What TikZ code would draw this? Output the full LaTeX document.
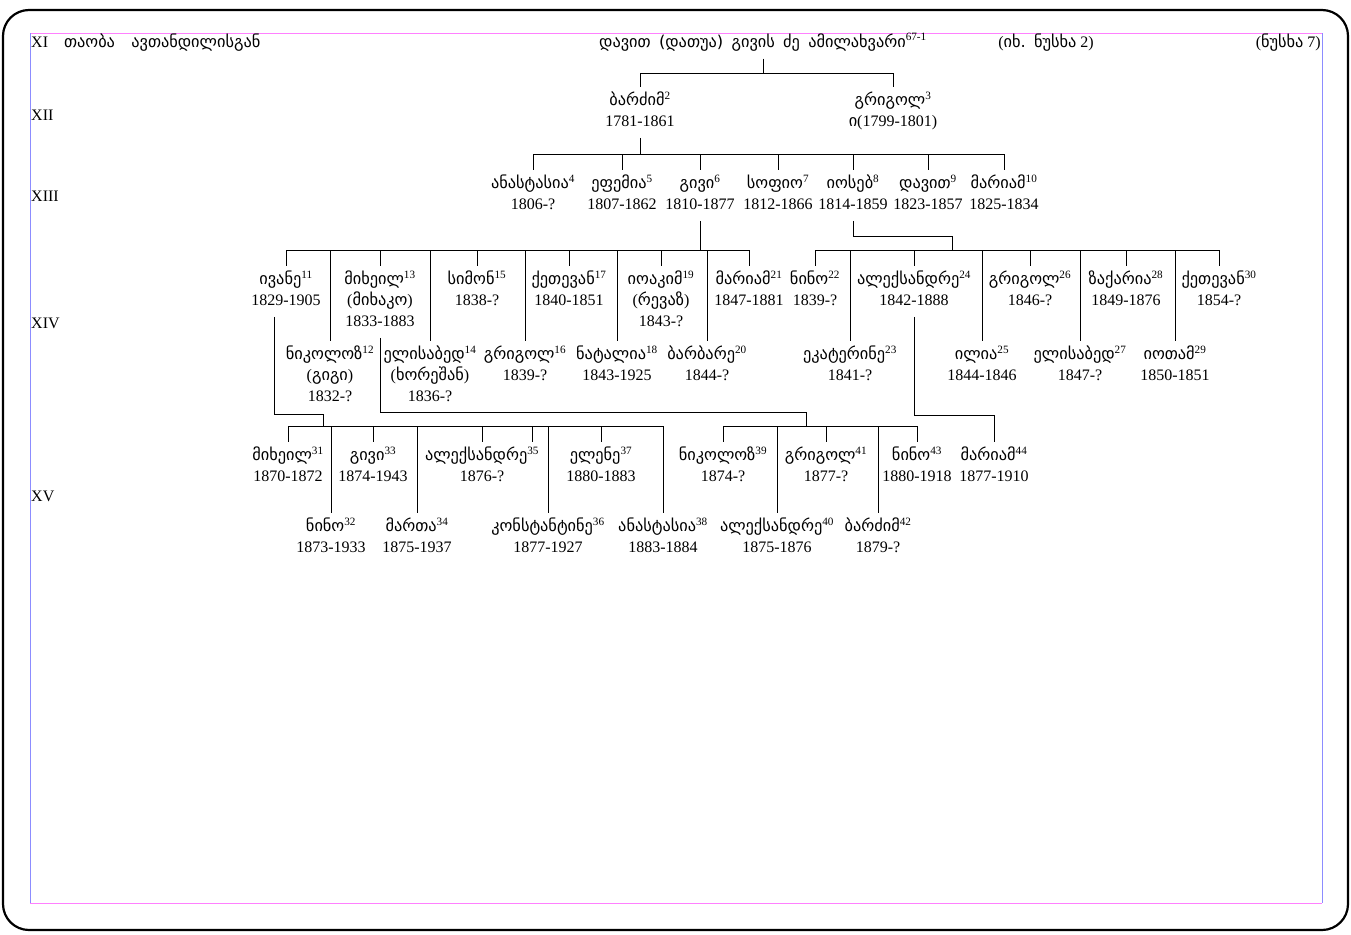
\documentclass[tikz,border=0pt]{standalone}
\usepackage{fontspec}
\setmainfont{Liberation Serif}
\newfontfamily\geo{DejaVu Sans}[Scale=1.02, WordSpace=1.6]
\newcommand{\nm}[2]{{\geo #1}\textsuperscript{#2}}
\definecolor{pagetop}{RGB}{255,128,255}
\definecolor{pageside}{RGB}{140,140,255}

\begin{document}
\begin{tikzpicture}[x=1pt, y=-1pt,
    person/.style={anchor=north, align=center, inner xsep=1pt, inner ysep=5pt,
      font=\fontsize{16}{21}\selectfont,
      execute at begin node=\strut, execute at end node=\strut},
    rowtag/.style={anchor=west, inner sep=0pt, font=\fontsize{16}{21}\selectfont},
    tie/.style={line width=1pt}
  ]
    \useasboundingbox (0,0) rectangle (1351,934);

    % Frame
    \draw[line width=2.2pt, rounded corners=26pt] (3,10) rectangle (1348,930);
    \draw[pagetop, line width=0.8pt] (30,33) -- (1322,33) (30,903) -- (1322,903);
    \draw[pageside, line width=0.8pt] (30,33) -- (30,903) (1322,33) -- (1322,903);

    % Generation tags
    \node[rowtag] (gen11) at (31,43)  {XI\quad{\geo თაობა\quad ავთანდილისგან}};
    \node[rowtag] (gen12) at (31,115) {XII};
    \node[rowtag] (gen13) at (31,196) {XIII};
    \node[rowtag] (gen14) at (31,323) {XIV};
    \node[rowtag] (gen15) at (31,496) {XV};
    \node[rowtag, anchor=center] (see2) at (1046,43) {({\geo იხ.\ ნუსხა}\ 2)};
    \node[rowtag, anchor=east]   (list7) at (1321,43) {({\geo ნუსხა}\ 7)};

    % Persons
    \node[person, anchor=center] at (763,43) (davit) {\nm{დავით (დათუა) გივის ძე ამილახვარი}{67-1}};

    \node[person] at (640,86.5)  (bardzim2) {\nm{ბარძიმ}{2}\\1781-1861};
    \node[person] at (893,86.5)  (grigol3)  {\nm{გრიგოლ}{3}\\{\geo ი}(1799-1801)};

    \node[person] at (533,169.5)  (anastasia4) {\nm{ანასტასია}{4}\\1806-?};
    \node[person] at (622,169.5)  (efemia5)    {\nm{ეფემია}{5}\\1807-1862};
    \node[person] at (700,169.5)  (givi6)      {\nm{გივი}{6}\\1810-1877};
    \node[person] at (778,169.5)  (sopio7)     {\nm{სოფიო}{7}\\1812-1866};
    \node[person] at (853,169.5)  (ioseb8)     {\nm{იოსებ}{8}\\1814-1859};
    \node[person] at (928,169.5)  (davit9)     {\nm{დავით}{9}\\1823-1857};
    \node[person] at (1004,169.5) (mariam10)   {\nm{მარიამ}{10}\\1825-1834};

    \node[person] at (286,265.5)  (ivane11)      {\nm{ივანე}{11}\\1829-1905};
    \node[person] at (380,265.5)  (mikheil13)    {\nm{მიხეილ}{13}\\({\geo მიხაკო})\\1833-1883};
    \node[person] at (477,265.5)  (simon15)      {\nm{სიმონ}{15}\\1838-?};
    \node[person] at (569,265.5)  (ketevan17)    {\nm{ქეთევან}{17}\\1840-1851};
    \node[person] at (661,265.5)  (ioakim19)     {\nm{იოაკიმ}{19}\\({\geo რევაზ})\\1843-?};
    \node[person] at (749,265.5)  (mariam21)     {\nm{მარიამ}{21}\\1847-1881};
    \node[person] at (815,265.5)  (nino22)       {\nm{ნინო}{22}\\1839-?};
    \node[person] at (914,265.5)  (aleksandre24) {\nm{ალექსანდრე}{24}\\1842-1888};
    \node[person] at (1030,265.5) (grigol26)     {\nm{გრიგოლ}{26}\\1846-?};
    \node[person] at (1126,265.5) (zakaria28)    {\nm{ზაქარია}{28}\\1849-1876};
    \node[person] at (1219,265.5) (ketevan30)    {\nm{ქეთევან}{30}\\1854-?};

    \node[person] at (330,340.5)  (nikoloz12)  {\nm{ნიკოლოზ}{12}\\({\geo გიგი})\\1832-?};
    \node[person] at (430,340.5)  (elisabed14) {\nm{ელისაბედ}{14}\\({\geo ხორეშან})\\1836-?};
    \node[person] at (525,340.5)  (grigol16)   {\nm{გრიგოლ}{16}\\1839-?};
    \node[person] at (617,340.5)  (natalia18)  {\nm{ნატალია}{18}\\1843-1925};
    \node[person] at (707,340.5)  (barbare20)  {\nm{ბარბარე}{20}\\1844-?};
    \node[person] at (850,340.5)  (ekaterine23){\nm{ეკატერინე}{23}\\1841-?};
    \node[person] at (982,340.5)  (ilia25)     {\nm{ილია}{25}\\1844-1846};
    \node[person] at (1080,340.5) (elisabed27) {\nm{ელისაბედ}{27}\\1847-?};
    \node[person] at (1175,340.5) (iotam29)    {\nm{იოთამ}{29}\\1850-1851};

    \node[person] at (288,441.5) (mikheil31)    {\nm{მიხეილ}{31}\\1870-1872};
    \node[person] at (373,441.5) (givi33)       {\nm{გივი}{33}\\1874-1943};
    \node[person] at (482,441.5) (aleksandre35) {\nm{ალექსანდრე}{35}\\1876-?};
    \node[person] at (601,441.5) (elene37)      {\nm{ელენე}{37}\\1880-1883};
    \node[person] at (723,441.5) (nikoloz39)    {\nm{ნიკოლოზ}{39}\\1874-?};
    \node[person] at (826,441.5) (grigol41)     {\nm{გრიგოლ}{41}\\1877-?};
    \node[person] at (917,441.5) (nino43)       {\nm{ნინო}{43}\\1880-1918};
    \node[person] at (994,441.5) (mariam44)     {\nm{მარიამ}{44}\\1877-1910};

    \node[person] at (331,512.5) (nino32)        {\nm{ნინო}{32}\\1873-1933};
    \node[person] at (417,512.5) (marta34)       {\nm{მართა}{34}\\1875-1937};
    \node[person] at (548,512.5) (konstantine36) {\nm{კონსტანტინე}{36}\\1877-1927};
    \node[person] at (663,512.5) (anastasia38)   {\nm{ანასტასია}{38}\\1883-1884};
    \node[person] at (777,512.5) (aleksandre40)  {\nm{ალექსანდრე}{40}\\1875-1876};
    \node[person] at (878,512.5) (bardzim42)     {\nm{ბარძიმ}{42}\\1879-?};

    % Buses and joints
    \coordinate (bus12) at (0,73);
    \coordinate (bus13) at (0,154);
    \coordinate (bus14) at (0,250);
    \coordinate (bus15) at (0,426);
    \coordinate (jIoseb)   at (952,236);
    \coordinate (jIvane)   at (323,414);
    \coordinate (jMikheil) at (806,412);
    \coordinate (stub35)   at (532,442);

    % Descent lines
    \draw[tie] (davit.south) -- (davit.south |- bus12);
    \foreach \c in {bardzim2,grigol3}
      \draw[tie] (davit.south |- bus12) -| (\c.north);

    \draw[tie] (bardzim2.south) -- (bardzim2.south |- bus13);
    \foreach \c in {anastasia4,efemia5,givi6,sopio7,ioseb8,davit9,mariam10}
      \draw[tie] (bardzim2.south |- bus13) -| (\c.north);

    \draw[tie] (givi6.south) -- (givi6.south |- bus14);
    \foreach \c in {ivane11,nikoloz12,mikheil13,elisabed14,simon15,grigol16,ketevan17,natalia18,ioakim19,barbare20,mariam21}
      \draw[tie] (givi6.south |- bus14) -| (\c.north);

    \draw[tie] (ioseb8.south) |- (jIoseb) -- (jIoseb |- bus14);
    \foreach \c in {nino22,ekaterine23,aleksandre24,ilia25,grigol26,elisabed27,zakaria28,iotam29,ketevan30}
      \draw[tie] (jIoseb |- bus14) -| (\c.north);

    \draw[tie] ([xshift=-12pt]ivane11.south) |- (jIvane) -- (jIvane |- bus15);
    \foreach \c in {mikheil31,nino32,givi33,marta34,aleksandre35,konstantine36,elene37,anastasia38}
      \draw[tie] (jIvane |- bus15) -| (\c.north);
    \draw[tie] (jIvane |- bus15) -| (stub35);

    \draw[tie] (mikheil13.south) |- (jMikheil) -- (jMikheil |- bus15);
    \foreach \c in {nikoloz39,aleksandre40,grigol41,bardzim42,nino43}
      \draw[tie] (jMikheil |- bus15) -| (\c.north);

    \draw[tie] (aleksandre24.south) |- (914,415) -| (mariam44.north);

\end{tikzpicture}
\end{document}
